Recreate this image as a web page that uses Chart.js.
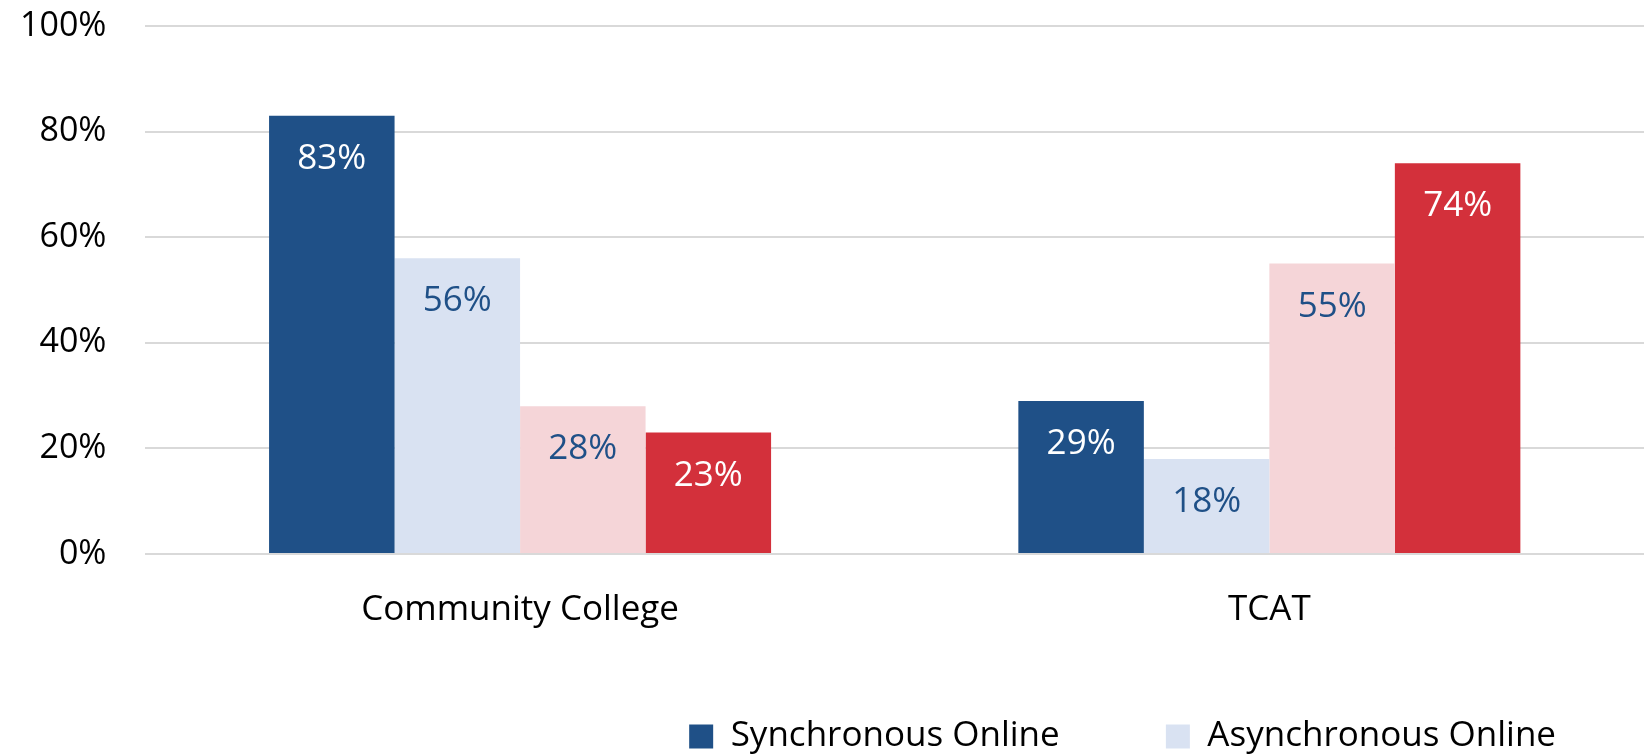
<!DOCTYPE html>
<html>
<head>
<meta charset="utf-8">
<script src="https://cdn.jsdelivr.net/npm/chart.js@4/dist/chart.umd.min.js"></script>
<style>
  html, body { margin: 0; padding: 0; background: #fff; overflow: hidden; }
  #wrap { width: 1644px; height: 754px; overflow: hidden; position: relative; }
</style>
</head>
<body>
<div id="wrap"><canvas id="chart"></canvas></div>
<script>
const categories = ["Community College", "TCAT"]
const synchronousOnline = [83, 29]
const asynchronousOnline = [56, 18]
const thirdSeries = [28, 55]
const fourthSeries = [23, 74]
const yTicks = [0, 20, 40, 60, 80, 100]

// only the first two legend entries are visible in the source, the rest fall below the crop
const legendNames = ["Synchronous Online", "Asynchronous Online"]

const font = "'Open Sans', 'Noto Sans', sans-serif"

const barLabels = {
  id: "barLabels",
  afterDatasetsDraw(chart) {
    const ctx = chart.ctx
    ctx.save()
    ctx.font = `35px ${font}`
    ctx.textAlign = "center"
    ctx.textBaseline = "middle"
    chart.data.datasets.forEach((ds, i) => {
      const meta = chart.getDatasetMeta(i)
      meta.data.forEach((bar, j) => {
        ctx.fillStyle = ds.labelColor
        ctx.fillText(ds.data[j] + "%", bar.x, bar.y + 43)
      })
    })
    ctx.restore()
  }
}

const canvas = document.getElementById("chart")
canvas.width = 1644
canvas.height = 764

new Chart(canvas, {
  type: "bar",
  data: {
    labels: categories,
    datasets: [
      { label: legendNames[0], data: synchronousOnline, backgroundColor: "#1f5087", labelColor: "#ffffff" },
      { label: legendNames[1], data: asynchronousOnline, backgroundColor: "#d9e2f2", labelColor: "#1f5087" },
      { label: "", data: thirdSeries, backgroundColor: "#f5d5d8", labelColor: "#1f5087" },
      { label: "", data: fourthSeries, backgroundColor: "#d3303b", labelColor: "#ffffff" }
    ]
  },
  options: {
    responsive: false,
    animation: false,
    layout: { padding: { top: 26, left: 15, right: 0, bottom: 0 } },
    datasets: {
      bar: { categoryPercentage: 0.67, barPercentage: 1.0 }
    },
    plugins: {
      tooltip: { enabled: false },
      legend: {
        position: "bottom",
        align: "end",
        labels: {
          boxWidth: 24,
          boxHeight: 24,
          padding: 88,
          color: "#000",
          font: { family: font, size: 35 },
          filter: (item) => item.datasetIndex < 2,
          // widen the gap after the first entry a little
          generateLabels: (chart) => {
            const items = Chart.defaults.plugins.legend.labels.generateLabels(chart)
            items[0].text = items[0].text + "\u00a0\u00a0"
            return items
          }
        }
      }
    },
    scales: {
      x: {
        grid: { drawOnChartArea: false, drawTicks: true, tickLength: 35, tickColor: "rgba(0,0,0,0)" },
        border: { display: false },
        ticks: { color: "#000", padding: 0, font: { family: font, size: 35 } }
      },
      y: {
        min: 0,
        max: 100,
        afterBuildTicks: (axis) => { axis.ticks = yTicks.map(v => ({ value: v })) },
        grid: { color: "#d9d9d9", lineWidth: 2, drawTicks: true, tickLength: 34, tickColor: "rgba(0,0,0,0)" },
        border: { display: false },
        ticks: {
          color: "#000",
          padding: 5,
          font: { family: font, size: 34 },
          callback: (v) => v + "%"
        }
      }
    }
  },
  plugins: [barLabels]
})
</script>
</body>
</html>
